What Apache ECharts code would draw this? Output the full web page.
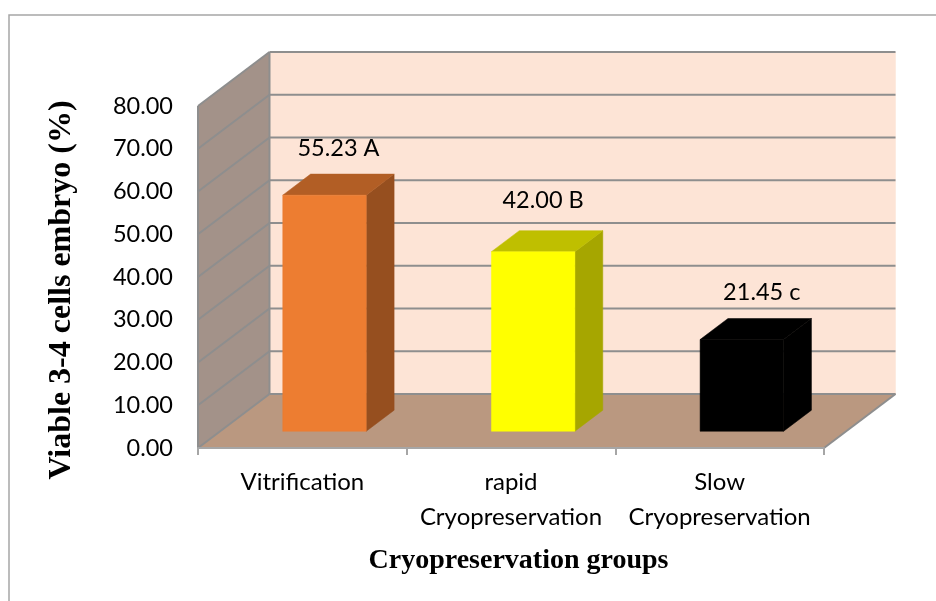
<!DOCTYPE html>
<html>
<head>
<meta charset="utf-8">
<style>
  html, body { margin: 0; padding: 0; background: #fff; }
  #chart { width: 936px; height: 601px; }
</style>
<script src="https://cdn.jsdelivr.net/npm/echarts@6/dist/echarts.min.js"></script>
</head>
<body>
<div id="chart"></div>
<script>
const categories = ['Vitrification', 'rapid\nCryopreservation', 'Slow\nCryopreservation'];
const viability = [55.23, 42.0, 21.45];
const significance = ['A', 'B', 'c'];
const frontColors = ['#ED7D31', '#FFFF00', '#000000'];
const topColors = ['#B25E25', '#BFBF00', '#000000'];
const sideColors = ['#964F1F', '#A6A600', '#000000'];
const yTicks = [0, 10, 20, 30, 40, 50, 60, 70, 80];

const depthX = 71.5;
const depthY = -54;
const lineColor = '#8E8E8E';
const bodyFont = 'Lato';
const titleFont = '"Liberation Serif"';
// hand placed in the original, so the value labels don't sit evenly over the bars
const labelNudgeX = [0, -4, 6];
const labelNudgeY = [0, -4, 0];

function poly(points, fill) {
  return {
    type: 'polygon',
    shape: { points },
    style: { fill, stroke: fill, lineWidth: 0.5 },
  };
}

function line(x1, y1, x2, y2) {
  return {
    type: 'line',
    shape: { x1, y1, x2, y2 },
    style: { stroke: lineColor, lineWidth: 2 },
  };
}

function renderWalls(params) {
  const g = params.coordSys;
  const left = g.x;
  const right = g.x + g.width;
  const top = g.y;
  const bottom = g.y + g.height;
  return {
    type: 'group',
    children: [
      poly([[left + depthX, top + depthY], [right + depthX, top + depthY], [right + depthX, bottom + depthY], [left + depthX, bottom + depthY]], '#FDE4D6'),
      poly([[left, top], [left + depthX, top + depthY], [left + depthX, bottom + depthY], [left, bottom]], '#A39289'),
      poly([[left, bottom], [left + depthX, bottom + depthY], [right + depthX, bottom + depthY], [right, bottom]], '#BA9880'),
      line(left, top, left, bottom),
      line(left + depthX, top + depthY, left + depthX, bottom + depthY),
      line(right, bottom, right + depthX, bottom + depthY),
    ],
  };
}

function renderGridLine(params, api) {
  const g = params.coordSys;
  const y = api.coord([0, api.value(0)])[1];
  return {
    type: 'group',
    children: [
      line(g.x, y, g.x + depthX, y + depthY),
      line(g.x + depthX, y + depthY, g.x + g.width + depthX, y + depthY),
    ],
  };
}

function renderBar(params, api) {
  const i = params.dataIndex;
  const center = api.coord([i, 0]);
  const topPoint = api.coord([i, api.value(1)]);
  const barWidth = api.size([1, 0])[0] * 0.4;
  const gapX = depthX * 0.31;
  const gapY = depthY * 0.31;
  const barX = depthX * 0.39;
  const barY = depthY * 0.39;
  const x0 = center[0] + gapX - barWidth / 2;
  const x1 = x0 + barWidth;
  const yBase = center[1] + gapY;
  const yTop = topPoint[1] + gapY;
  return {
    type: 'group',
    children: [
      poly([[x1, yBase], [x1 + barX, yBase + barY], [x1 + barX, yTop + barY], [x1, yTop]], sideColors[i]),
      poly([[x0, yTop], [x0 + barX, yTop + barY], [x1 + barX, yTop + barY], [x1, yTop]], topColors[i]),
      poly([[x0, yBase], [x1, yBase], [x1, yTop], [x0, yTop]], frontColors[i]),
      {
        type: 'text',
        style: {
          x: (x0 + x1 + barX) / 2 + labelNudgeX[i],
          y: yTop + barY - 26 + labelNudgeY[i],
          text: api.value(1).toFixed(2) + ' ' + significance[i],
          fill: '#000',
          font: '23.5px ' + bodyFont,
          align: 'center',
          verticalAlign: 'middle',
        },
      },
    ],
  };
}

const chart = echarts.init(document.getElementById('chart'), null, { renderer: 'canvas' });
chart.setOption({
  animation: false,
  backgroundColor: '#fff',
  graphic: [
    {
      type: 'polyline',
      z: -1,
      shape: { points: [[9, 601], [9, 15], [936, 15]] },
      style: { stroke: '#A6A6A6', lineWidth: 1.5, fill: null },
    },
  ],
  grid: { left: 198, top: 106, width: 626, height: 342 },
  xAxis: {
    type: 'category',
    data: categories,
    z: 5,
    name: 'Cryopreservation groups',
    nameLocation: 'middle',
    nameGap: 99,
    nameTextStyle: { fontFamily: titleFont, fontWeight: 'bold', fontSize: 28, color: '#000', padding: [0, 0, 0, 15] },
    axisLine: { lineStyle: { color: '#A6A6A6', width: 2 } },
    axisTick: { show: true, length: 7, alignWithLabel: false, lineStyle: { color: '#A6A6A6', width: 2 } },
    axisLabel: { fontFamily: bodyFont, fontSize: 24, color: '#000', margin: 17, lineHeight: 35, interval: 0 },
  },
  yAxis: {
    type: 'value',
    min: 0,
    max: 80,
    interval: 10,
    name: 'Viable 3-4 cells embryo (%)',
    nameLocation: 'middle',
    nameGap: 120,
    nameTextStyle: { fontFamily: titleFont, fontWeight: 'bold', fontSize: 32, color: '#000', padding: [0, 26, 0, 0] },
    axisLine: { show: false },
    axisTick: { show: false },
    splitLine: { show: false },
    axisLabel: { fontFamily: bodyFont, fontSize: 23.5, color: '#000', margin: 25, formatter: (v) => v.toFixed(2) },
  },
  series: [
    { type: 'custom', coordinateSystem: 'cartesian2d', z: 1, silent: true, data: [0], renderItem: renderWalls },
    { type: 'custom', coordinateSystem: 'cartesian2d', z: 2, silent: true, encode: { y: 0 }, data: yTicks.map((t) => [t]), renderItem: renderGridLine },
    { type: 'custom', coordinateSystem: 'cartesian2d', z: 3, silent: true, encode: { x: 0, y: 1 }, data: viability.map((v, i) => [i, v]), renderItem: renderBar },
  ],
});
</script>
</body>
</html>
